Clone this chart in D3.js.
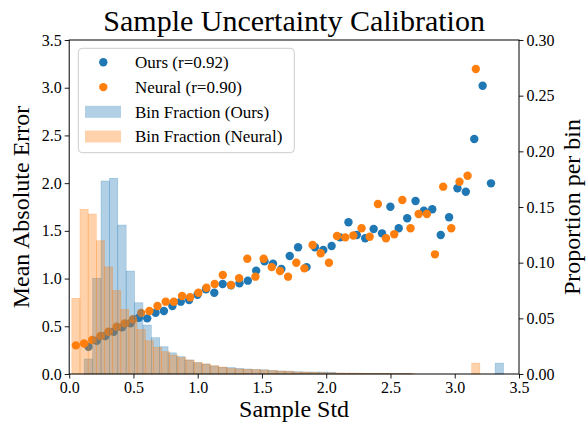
<!DOCTYPE html>
<html><head><meta charset="utf-8">
<script src="https://cdn.jsdelivr.net/npm/d3@7"></script>
<style>body{margin:0;background:#fff}svg{display:block}text{font-family:"Liberation Serif","Times New Roman",serif;fill:#000}</style>
</head><body><svg id="c" width="587" height="425"></svg>
<script>
// ---- data ----
const oursX = [0.150,0.215,0.281,0.346,0.411,0.476,0.542,0.607,0.672,0.737,0.803,0.868,0.933,0.998,1.064,1.129,1.194,1.259,1.325,1.390,1.455,1.520,1.586,1.651,1.716,1.781,1.847,1.912,1.977,2.042,2.108,2.173,2.238,2.303,2.369,2.434,2.499,2.564,2.630,2.695,2.760,2.825,2.891,2.956,3.021,3.086,3.152,3.217,3.282];
const oursMAE = [0.286,0.349,0.398,0.443,0.489,0.531,0.590,0.583,0.642,0.660,0.713,0.758,0.775,0.830,0.888,0.852,0.943,0.930,0.950,0.978,1.083,1.180,1.155,1.100,1.237,1.328,1.120,1.328,1.300,1.341,1.432,1.590,1.457,1.422,1.519,1.474,1.753,1.527,1.632,1.813,1.711,1.726,1.457,1.642,1.946,1.910,2.463,3.021,1.998];
const neuralX = [0.052,0.116,0.179,0.243,0.306,0.370,0.433,0.497,0.560,0.624,0.687,0.751,0.814,0.878,0.941,1.005,1.068,1.132,1.195,1.259,1.322,1.386,1.449,1.513,1.576,1.640,1.703,1.767,1.830,1.894,1.957,2.021,2.084,2.148,2.211,2.275,2.338,2.402,2.465,2.529,2.592,2.656,2.719,2.783,2.846,2.910,2.973,3.037,3.100,3.164];
const neuralMAE = [0.300,0.320,0.356,0.398,0.443,0.496,0.531,0.573,0.640,0.660,0.713,0.758,0.758,0.817,0.805,0.852,0.904,0.943,1.037,0.933,1.003,1.208,1.020,1.208,1.120,1.079,1.020,1.166,1.107,1.352,1.265,1.166,1.446,1.432,1.452,1.527,1.439,1.781,1.422,1.464,1.823,1.527,1.677,1.677,1.254,1.963,1.527,2.015,2.078,3.196];
// histograms (proportion per bin)
const oursBinStart = 0.117, oursBinWidth = 0.06525;
const oursHist = [0.0135,0.086,0.1734,0.1758,0.1338,0.0925,0.064,0.044,0.0326,0.0245,0.019,0.0156,0.0126,0.0102,0.009,0.0072,0.006,0.0058,0.005,0.0045,0.004,0.0038,0.0032,0.0027,0.0025,0.002,0.0018,0.0018,0.0018,0.0016,0.0008,0.0007,0.0007,0.0006,0.0006,0.0005,0.0005,0.0004,0.0004,0,0,0,0,0,0,0,0,0,0,0.0098];
const neuralBinStart = 0.0205, neuralBinWidth = 0.0635;
const neuralHist = [0.068,0.148,0.1437,0.1197,0.0962,0.075,0.058,0.0485,0.040,0.030,0.024,0.020,0.017,0.0147,0.0126,0.0103,0.009,0.0075,0.0063,0.005,0.0045,0.0042,0.004,0.0036,0.003,0.0027,0.0025,0.0018,0.0018,0.0015,0.0012,0.001,0.0009,0.0008,0.0008,0.0007,0.0006,0.0006,0.0005,0.0004,0.0004,0.0003,0,0,0,0,0,0,0,0.0098];
const xTicks = [0.0,0.5,1.0,1.5,2.0,2.5,3.0,3.5];
const yTicks = [0.0,0.5,1.0,1.5,2.0,2.5,3.0,3.5];
const y2Ticks = [0.00,0.05,0.10,0.15,0.20,0.25,0.30];
const legendLabels = ["Ours (r=0.92)","Neural (r=0.90)","Bin Fraction (Ours)","Bin Fraction (Neural)"];

// ---- layout ----
const L=69.2, R=519, T=40, B=374;
const blue="#1f77b4", orange="#ff7f0e";
const svg=d3.select("#c");
const x=d3.scaleLinear().domain([0,3.5]).range([L,R]);
const y=d3.scaleLinear().domain([0,3.5]).range([B,T]);
const y2=d3.scaleLinear().domain([0,0.30]).range([B,T]);

const plot=svg.append("g");
function pts(xs,ys,col){
  plot.append("g").selectAll("circle").data(xs.map((v,i)=>[v,ys[i]])).join("circle")
   .attr("cx",d=>x(d[0])).attr("cy",d=>y(d[1])).attr("r",4.2).attr("fill",col);
}
pts(oursX,oursMAE,blue);
pts(neuralX,neuralMAE,orange);
function hist(start,w,vals,col){
  plot.append("g").selectAll("rect").data(vals.map((v,i)=>({x0:start+i*w,x1:start+(i+1)*w,v}))).join("rect")
   .attr("x",d=>x(d.x0)).attr("width",d=>x(d.x1)-x(d.x0))
   .attr("y",d=>y2(d.v)).attr("height",d=>B-y2(d.v))
   .attr("fill",col).attr("fill-opacity",0.35)
   .attr("stroke",col).attr("stroke-opacity",0.35).attr("stroke-width",0.6);
}
hist(oursBinStart,oursBinWidth,oursHist,blue);
hist(neuralBinStart,neuralBinWidth,neuralHist,orange);

// axes
const fs=16;
const ax=svg.append("g").attr("transform",`translate(0,${B})`).call(d3.axisBottom(x).tickValues(xTicks).tickFormat(d3.format(".1f")).tickSize(4.5).tickPadding(3));
const ay=svg.append("g").attr("transform",`translate(${L},0)`).call(d3.axisLeft(y).tickValues(yTicks).tickFormat(d3.format(".1f")).tickSize(4.5).tickPadding(3));
const ay2=svg.append("g").attr("transform",`translate(${R},0)`).call(d3.axisRight(y2).tickValues(y2Ticks).tickFormat(d3.format(".2f")).tickSize(4.5).tickPadding(3));
[ax,ay,ay2].forEach(g=>{g.select(".domain").remove();g.selectAll("line").attr("stroke","#000").attr("stroke-width",0.9);
  g.selectAll("text").style("font-family",'"Liberation Serif",serif').style("font-size",fs+"px").attr("fill","#000");});
svg.append("rect").attr("x",L).attr("y",T).attr("width",R-L).attr("height",B-T).attr("fill","none").attr("stroke","#000").attr("stroke-width",1);

// labels
svg.append("text").attr("x",(L+R)/2).attr("y",31).attr("text-anchor","middle").style("font-size","30px").text("Sample Uncertainty Calibration");
svg.append("text").attr("x",(L+R)/2).attr("y",417).attr("text-anchor","middle").style("font-size","24px").text("Sample Std");
svg.append("text").attr("transform",`translate(29,${(T+B)/2}) rotate(-90)`).attr("text-anchor","middle").style("font-size","24px").text("Mean Absolute Error");
svg.append("text").attr("transform",`translate(580,${(T+B)/2}) rotate(-90)`).attr("text-anchor","middle").style("font-size","24px").text("Proportion per bin");

// legend
const lg=svg.append("g");
lg.append("rect").attr("x",78.3).attr("y",48.3).attr("width",216).attr("height",104.4).attr("rx",4)
  .attr("fill","#fff").attr("fill-opacity",0.8).attr("stroke","#ccc").attr("stroke-width",1);
const rows=[62.3,87.1,111.8,136.5];
lg.append("circle").attr("cx",103.3).attr("cy",rows[0]).attr("r",4.2).attr("fill",blue);
lg.append("circle").attr("cx",103.3).attr("cy",rows[1]).attr("r",4.2).attr("fill",orange);
lg.append("rect").attr("x",85).attr("y",rows[2]-6).attr("width",36).attr("height",12).attr("fill",blue).attr("fill-opacity",0.35);
lg.append("rect").attr("x",85).attr("y",rows[3]-6).attr("width",36).attr("height",12).attr("fill",orange).attr("fill-opacity",0.35);
legendLabels.forEach((t,i)=>lg.append("text").attr("x",135).attr("y",rows[i]).attr("dy","0.35em").style("font-size","17px").text(t));
</script></body></html>
